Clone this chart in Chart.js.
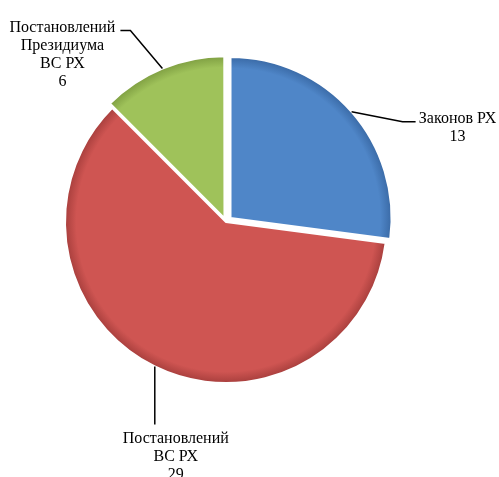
<!DOCTYPE html>
<html>
<head>
<meta charset="utf-8">
<script src="https://cdn.jsdelivr.net/npm/chart.js@4"></script>
<style>
    body { margin: 0; background: #fff; }
    #wrap { width: 499px; height: 477px; }
</style>
</head>
<body>
<div id="wrap"><canvas id="pieChart" width="499" height="477"></canvas></div>
<script>
const categories = [
    ['Законов РХ'],
    ['Постановлений', 'ВС РХ'],
    ['Постановлений', 'Президиума', 'ВС РХ']
];
const values = [13, 29, 6];
const colors = ['#4f86c8', '#cf5552', '#9fc25a'];
const rims = ['#3a6aa6', '#a83f3d', '#7f9f42'];
const offsets = [24, 0, 16];

// where each label sits relative to the point on the slice edge (leader line + text)
const leaders = [
    { elbow: [51, 10], end: [64, 10], text: [42, -3] },
    { elbow: [0, 58], end: [0, 58], text: [21, 14] },
    { elbow: [-32, -38], end: [-42, -38], text: [-58, -3] }
];

const BORDER = 2;

// darker rim on the outside of every slice, like the bevel in the original
function sliceFill(context) {
    const i = context.dataIndex;
    const chart = context.chart;
    const a = chart.chartArea;
    if (!a) return colors[i];
    const maxOff = Math.max(...offsets);
    const R = (Math.min(a.right - a.left, a.bottom - a.top) - BORDER - maxOff) / 2;
    const cx = (a.left + a.right) / 2;
    const cy = (a.top + a.bottom) / 2;
    const total = values.reduce((s, v) => s + v, 0);
    const circ = values[i] / total * Math.PI * 2;
    const fix = 1 - Math.sin(Math.min(Math.PI, circ));
    const r = R + offsets[i] / 4 * fix;
    const g = chart.ctx.createRadialGradient(cx, cy, 0, cx, cy, r);
    g.addColorStop(0, colors[i]);
    g.addColorStop(0.93, colors[i]);
    g.addColorStop(1, rims[i]);
    return g;
}

const outsideLabels = {
    id: 'outsideLabels',
    afterDatasetsDraw(chart) {
        const ctx = chart.ctx;
        const meta = chart.getDatasetMeta(0);
        ctx.save();
        ctx.strokeStyle = '#000';
        ctx.lineWidth = 1.5;
        ctx.fillStyle = '#000';
        ctx.font = '16px "Liberation Serif", "Times New Roman", serif';
        ctx.textBaseline = 'middle';
        ctx.textAlign = 'center';
        meta.data.forEach((arc, i) => {
            const { x, y, startAngle, endAngle, outerRadius, circumference } =
                arc.getProps(['x', 'y', 'startAngle', 'endAngle', 'outerRadius', 'circumference']);
            const mid = (startAngle + endAngle) / 2;
            const t = (arc.options.offset || 0) / 4;
            const fix = 1 - Math.sin(Math.min(Math.PI, circumference));
            const rr = outerRadius + t * fix + t;
            const ex = x + Math.cos(mid) * rr;
            const ey = y + Math.sin(mid) * rr;
            const l = leaders[i];
            ctx.beginPath();
            ctx.moveTo(ex, ey);
            ctx.lineTo(ex + l.elbow[0], ey + l.elbow[1]);
            ctx.lineTo(ex + l.end[0], ey + l.end[1]);
            ctx.stroke();
            const lines = categories[i].concat([String(values[i])]);
            const tx = ex + l.end[0] + l.text[0];
            let ty = ey + l.end[1] + l.text[1];
            lines.forEach(line => {
                ctx.fillText(line, tx, ty);
                ty += 18;
            });
        });
        ctx.restore();
    }
};

new Chart(document.getElementById('pieChart').getContext('2d'), {
    type: 'pie',
    data: {
        labels: categories,
        datasets: [{
            data: values,
            backgroundColor: sliceFill,
            borderColor: '#ffffff',
            borderWidth: BORDER,
            offset: offsets
        }]
    },
    options: {
        responsive: false,
        animation: false,
        layout: { padding: { left: 52, right: 99, top: 47, bottom: 80 } },
        plugins: {
            legend: { display: false },
            tooltip: { enabled: false }
        }
    },
    plugins: [outsideLabels]
});
</script>
</body>
</html>
